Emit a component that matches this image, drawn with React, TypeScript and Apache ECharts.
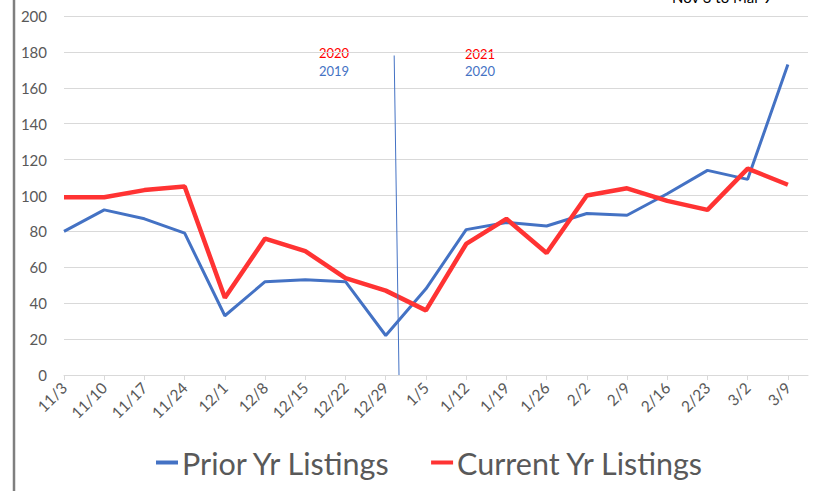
import React, { useEffect, useRef } from "react";
import * as echarts from "echarts";

const categories = ["11/3","11/10","11/17","11/24","12/1","12/8","12/15","12/22","12/29","1/5","1/12","1/19","1/26","2/2","2/9","2/16","2/23","3/2","3/9"];
const priorYr = [80, 92, 87, 79, 33, 52, 53, 52, 22, 48, 81, 85, 83, 90, 89, 101, 114, 109, 173];
const currentYr = [99, 99, 103, 105, 43, 76, 69, 54, 47, 36, 73, 87, 68, 100, 104, 97, 92, 115, 106];
const yTicks = { min: 0, max: 200, interval: 20 };

const FONT = "Lato";
const BLUE = "#4472C4";
const RED = "#FF3333";
const GRID = "#D9D9D9";
const LABEL = "#595959";

export default function App() {
  const ref = useRef<HTMLDivElement>(null);
  useEffect(() => {
    if (!ref.current) return;
    const chart = echarts.init(ref.current, undefined, { renderer: "svg" });
    const idx = categories.map((_, i) => i);
    chart.setOption({
      animation: false,
      backgroundColor: "#ffffff",
      textStyle: { fontFamily: FONT },
      grid: { left: 64, right: 25, top: 16, bottom: 116, containLabel: false },
      xAxis: {
        type: "value",
        min: 0,
        max: 18.5,
        interval: 1,
        splitLine: { show: false },
        axisLine: { show: true, lineStyle: { color: GRID, width: 1 } },
        axisTick: { show: true, length: 5, lineStyle: { color: GRID }, customValues: idx },
        axisLabel: {
          customValues: idx,
          formatter: (v: number) => categories[Math.round(v)] ?? "",
          rotate: 45,
          color: LABEL,
          fontSize: 15.5,
          fontFamily: FONT,
          margin: 10,
        },
      },
      yAxis: {
        type: "value",
        min: yTicks.min,
        max: yTicks.max,
        interval: yTicks.interval,
        axisLine: { show: false },
        axisTick: { show: false },
        splitLine: { show: true, lineStyle: { color: GRID, width: 1 } },
        axisLabel: { color: LABEL, fontSize: 15, fontFamily: FONT, margin: 17 },
      },
      legend: {
        top: 442,
        left: 151,
        itemGap: 40,
        itemWidth: 22,
        itemHeight: 4,
        icon: "rect",
        textStyle: { fontSize: 30.5, color: LABEL, fontFamily: FONT, padding: [0, 0, 0, -1] },
        data: ["Prior Yr Listings", "Current Yr Listings"],
      },
      series: [
        {
          name: "Prior Yr Listings",
          type: "line",
          data: priorYr.map((v, i) => [i, v]),
          symbol: "none",
          lineStyle: { color: BLUE, width: 3 },
          itemStyle: { color: BLUE },
          markLine: {
            silent: true,
            symbol: "none",
            label: { show: false },
            lineStyle: { color: BLUE, width: 1, type: "solid" },
            data: [[{ coord: [8.21, 178] }, { coord: [8.33, 0] }]],
          },
        },
        {
          name: "Current Yr Listings",
          type: "line",
          data: currentYr.map((v, i) => [i, v]),
          symbol: "none",
          lineStyle: { color: RED, width: 4.5 },
          itemStyle: { color: RED },
        },
      ],
      graphic: [
        { type: "line", shape: { x1: 14, y1: 0, x2: 14, y2: 491 }, style: { stroke: "#7F7F7F", lineWidth: 2.5 } },
        { type: "text", x: 722, y: 4, style: { text: "Nov 3 to Mar 9", fontSize: 15, fontFamily: FONT, fill: "#000", textAlign: "center", textVerticalAlign: "bottom" } },
        { type: "text", x: 334, y: 53, style: { text: "2020", fontSize: 13, fontFamily: FONT, fill: "#FF0000", textAlign: "center", textVerticalAlign: "middle" } },
        { type: "text", x: 334, y: 71, style: { text: "2019", fontSize: 13, fontFamily: FONT, fill: BLUE, textAlign: "center", textVerticalAlign: "middle" } },
        { type: "text", x: 480, y: 54, style: { text: "2021", fontSize: 13, fontFamily: FONT, fill: "#FF0000", textAlign: "center", textVerticalAlign: "middle" } },
        { type: "text", x: 480, y: 71, style: { text: "2020", fontSize: 13, fontFamily: FONT, fill: BLUE, textAlign: "center", textVerticalAlign: "middle" } },
      ],
    });
    return () => chart.dispose();
  }, []);
  return <div ref={ref} style={{ position: "fixed", left: 0, top: 0, width: 833, height: 491 }} />;
}
